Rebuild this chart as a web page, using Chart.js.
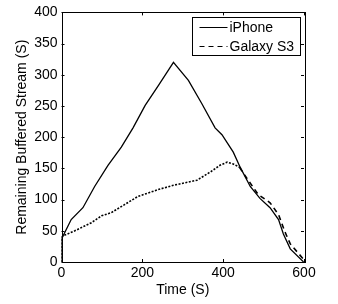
<!DOCTYPE html>
<html><head><meta charset="utf-8">
<script src="https://cdn.jsdelivr.net/npm/chart.js@4"></script>
<style>html,body{margin:0;padding:0;background:#fff;}#wrap{width:338px;height:304px;}</style>
</head><body><div id="wrap"><canvas id="c" width="338" height="304"></canvas></div>
<script>
const iphoneTime = [0,0,4,24,53,82,115,148,177,207,240,277,314,347,380,397,425,442,467,491,516,537,549,566,599];
const iphoneBuffer = [0,40,42,68,87,121,155,184,215,251,283,320,291,254,215,204,176,152,121,102,87,68,45,21,0];
const galaxyTime = [0,0,4,33,74,99,123,156,189,239,277,335,370,392,410,425,440,462,487,516,537,553,566,586,598];
const galaxyBuffer = [0,38,42,50,63,74,79,92,105,116,123,131,145,155,160,157,152,131,108,95,76,48,29,14,5];
const xTicks = [0,200,400,600];
const yTicks = [0,50,100,150,200,250,300,350,400];
const seriesNames = ['iPhone','Galaxy S3'];

const FONT = '"Liberation Sans", Arial, Helvetica, sans-serif';

const framePlugin = {
  id:'frame',
  afterDatasetsDraw(chart){
    const {ctx, chartArea:a, scales:{x,y}} = chart;
    ctx.save();
    ctx.strokeStyle='#000'; ctx.lineWidth=1;
    ctx.strokeRect(Math.round(a.left)+0.5, Math.round(a.top)+0.5, Math.round(a.right-a.left), Math.round(a.bottom-a.top));
    const L=3;
    ctx.beginPath();
    xTicks.forEach(v=>{const px=Math.round(x.getPixelForValue(v))+0.5;
      ctx.moveTo(px,a.bottom);ctx.lineTo(px,a.bottom-L);ctx.moveTo(px,a.top);ctx.lineTo(px,a.top+L);});
    yTicks.forEach(v=>{const py=Math.round(y.getPixelForValue(v))+0.5;
      ctx.moveTo(a.left,py);ctx.lineTo(a.left+L,py);ctx.moveTo(a.right,py);ctx.lineTo(a.right-L,py);});
    ctx.stroke();
    // legend
    const bx=Math.round(a.right)-111.5, by=Math.round(a.top)+5.5, bw=108, bh=38;
    ctx.fillStyle='#fff'; ctx.fillRect(bx,by,bw,bh);
    ctx.strokeRect(bx,by,bw,bh);
    ctx.font='14px '+FONT; ctx.fillStyle='#000'; ctx.textBaseline='middle'; ctx.textAlign='left';
    ctx.lineWidth=1;
    ctx.beginPath(); ctx.moveTo(bx+7,by+10); ctx.lineTo(bx+35,by+10); ctx.stroke();
    ctx.setLineDash([5,4]);
    ctx.beginPath(); ctx.moveTo(bx+7,by+29); ctx.lineTo(bx+35,by+29); ctx.stroke();
    ctx.setLineDash([]);
    ctx.fillText(seriesNames[0], bx+37, by+10.5);
    ctx.fillText(seriesNames[1], bx+37, by+29.5);
    ctx.restore();
  }
};

new Chart(document.getElementById('c'), {
  type:'line',
  data:{datasets:[
    {label:seriesNames[0], data:iphoneTime.map((t,i)=>({x:t,y:iphoneBuffer[i]})), borderColor:'#000', borderWidth:1.3, pointRadius:0, tension:0, fill:false},
    {label:seriesNames[1], data:galaxyTime.map((t,i)=>({x:t,y:galaxyBuffer[i]})), borderColor:'#000', borderWidth:1.6, pointRadius:0, tension:0, fill:false,
      segment:{borderDash:ctx=> ctx.p0.parsed.x < 430 ? [2,1.5] : [5,4]}}
  ]},
  options:{
    responsive:false, animation:false, devicePixelRatio:1,
    layout:{padding:{top:7,right:34,left:0,bottom:0}},
    plugins:{legend:{display:false}, tooltip:{enabled:false}},
    scales:{
      x:{type:'linear', min:0, max:600,
        afterFit(s){s.height=42;},
        afterBuildTicks(s){s.ticks=xTicks.map(v=>({value:v}));},
        grid:{display:false, drawTicks:false}, border:{display:false},
        ticks:{color:'#000', font:{family:FONT,size:14}, padding:3, maxRotation:0},
        title:{display:true, text:'Time (S)', color:'#000', font:{family:FONT,size:14}, padding:{top:0,bottom:5}}},
      y:{type:'linear', min:0, max:400,
        afterFit(s){s.width=61.5;},
        afterBuildTicks(s){s.ticks=yTicks.map(v=>({value:v}));},
        grid:{display:false, drawTicks:false}, border:{display:false},
        ticks:{color:'#000', font:{family:FONT,size:14}, padding:4},
        title:{display:true, text:'Remaining Buffered Stream (S)', color:'#000', font:{family:FONT,size:14}, padding:{top:14,bottom:0}}}
    }
  },
  plugins:[framePlugin]
});
</script></body></html>
